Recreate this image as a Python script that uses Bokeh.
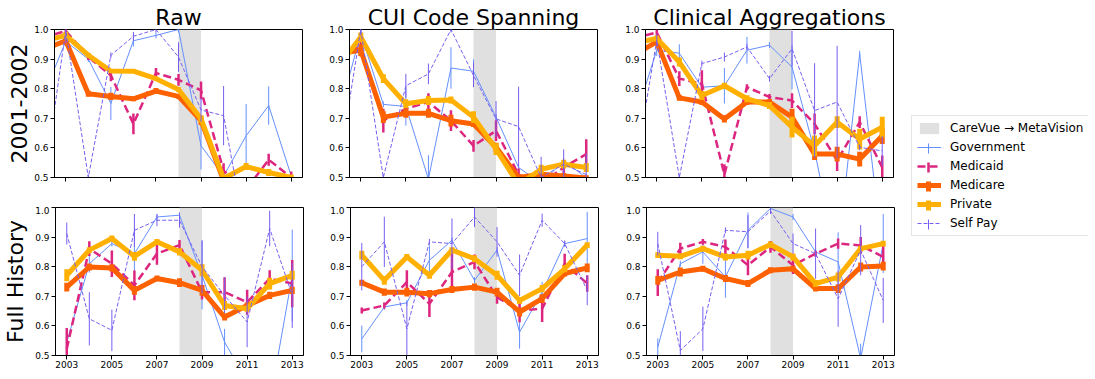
import numpy as np
from bokeh.plotting import figure
from bokeh.models import (Range1d, FixedTicker, PrintfTickFormatter, BoxAnnotation,
                          Title, Legend, LegendItem, ColumnDataSource)
from bokeh.layouts import row, column
from bokeh.embed import file_html
from bokeh.resources import INLINE

# ---------------- data ----------------
years_top = [2002, 2003, 2004, 2005, 2006, 2007, 2008, 2009, 2010, 2011, 2012, 2013]
years_bottom = [2003, 2004, 2005, 2006, 2007, 2008, 2009, 2010, 2011, 2012, 2013]
x_ticks = [2003, 2005, 2007, 2009, 2011, 2013]
y_ticks = [0.5, 0.6, 0.7, 0.8, 0.9, 1.0]
series_names = ["Government", "Medicaid", "Medicare", "Private", "Self Pay"]
column_titles = ["Raw", "CUI Code Spanning", "Clinical Aggregations"]
row_titles = ["2001-2002", "Full History"]
transition_label = "CareVue \u2192 MetaVision"
transition_years = [2008, 2009]

# Row 1: 2001-2002 (years_top)
raw_top_government = [0.776, 0.96, 0.90, 0.75, 0.962, 0.98, 1.0, 0.607, 0.505, 0.641, 0.743, 0.505]
raw_top_government_err = [0, 0.01, 0.01, 0.056, 0.02, 0.01, 0.01, 0.08, 0.01, 0.107, 0.065, 0.01]
raw_top_medicaid = [0.972, 0.995, 0.907, 0.845, 0.681, 0.853, 0.83, 0.794, 0.523, 0.46, 0.56, 0.50]
raw_top_medicaid_err = [0, 0.01, 0.01, 0.02, 0.035, 0.017, 0.02, 0.03, 0.025, 0.02, 0.02, 0.02]
raw_top_medicare = [0.932, 0.962, 0.783, 0.774, 0.766, 0.792, 0.774, 0.692, 0.49, 0.45, 0.45, 0.47]
raw_top_medicare_err = [0, 0.012, 0.01, 0.012, 0.008, 0.01, 0.008, 0.015, 0.01, 0.01, 0.01, 0.01]
raw_top_private = [0.96, 0.98, 0.913, 0.86, 0.859, 0.834, 0.797, 0.698, 0.497, 0.537, 0.517, 0.50]
raw_top_private_err = [0, 0.012, 0.008, 0.006, 0.006, 0.006, 0.008, 0.012, 0.01, 0.012, 0.012, 0.01]
raw_top_selfpay = [0.464, 0.998, 0.50, 0.913, 0.977, 1.0, 0.907, 0.728, 0.709, 0.30, 0.35, 0.40]
raw_top_selfpay_err = [0, 0.045, 0.01, 0.01, 0.015, 0.01, 0.05, 0.04, 0.1, 0.1, 0.05, 0.02]

cui_top_government = [0.704, 0.986, 0.747, 0.74, 0.495, 0.87, 0.859, 0.704, 0.534, 0.48, 0.556, 0.50]
cui_top_government_err = [0, 0.02, 0.01, 0.065, 0.08, 0.07, 0.04, 0.01, 0.01, 0.01, 0.01, 0.01]
cui_top_medicaid = [0.924, 0.94, 0.692, 0.732, 0.755, 0.692, 0.607, 0.658, 0.51, 0.48, 0.534, 0.579]
cui_top_medicaid_err = [0, 0.02, 0.04, 0.01, 0.03, 0.035, 0.02, 0.035, 0.02, 0.02, 0.02, 0.05]
cui_top_medicare = [0.918, 0.93, 0.704, 0.717, 0.717, 0.692, 0.681, 0.602, 0.50, 0.511, 0.505, 0.498]
cui_top_medicare_err = [0, 0.02, 0.02, 0.015, 0.015, 0.02, 0.01, 0.015, 0.01, 0.01, 0.01, 0.01]
cui_top_private = [0.873, 0.975, 0.834, 0.749, 0.76, 0.762, 0.704, 0.596, 0.476, 0.528, 0.545, 0.534]
cui_top_private_err = [0, 0.015, 0.015, 0.015, 0.015, 0.012, 0.02, 0.02, 0.01, 0.015, 0.015, 0.015]
cui_top_selfpay = [0.52, 1.0, 0.50, 0.81, 0.85, 1.0, 0.845, 0.698, 0.672, 0.50, 0.545, 0.51]
cui_top_selfpay_err = [0, 0.02, 0.01, 0.04, 0.035, 0.01, 0.04, 0.06, 0.135, 0.07, 0.05, 0.07]

clin_top_government = [0.69, 0.93, 0.92, 0.805, 0.81, 0.93, 0.947, 0.873, 0.59, 0.22, 0.918, 0.25]
clin_top_government_err = [0, 0.02, 0.03, 0.01, 0.06, 0.045, 0.01, 0.075, 0.01, 0.01, 0.01, 0.01]
clin_top_medicaid = [0.97, 0.99, 0.834, 0.817, 0.51, 0.805, 0.772, 0.76, 0.681, 0.557, 0.687, 0.534]
clin_top_medicaid_err = [0, 0.01, 0.025, 0.045, 0.035, 0.01, 0.01, 0.025, 0.035, 0.035, 0.02, 0.04]
clin_top_medicare = [0.914, 0.958, 0.769, 0.755, 0.698, 0.755, 0.755, 0.704, 0.579, 0.579, 0.562, 0.641]
clin_top_medicare_err = [0, 0.01, 0.01, 0.01, 0.012, 0.01, 0.01, 0.028, 0.02, 0.025, 0.025, 0.028]
clin_top_private = [0.954, 0.97, 0.89, 0.777, 0.81, 0.766, 0.743, 0.67, 0.607, 0.687, 0.63, 0.67]
clin_top_private_err = [0, 0.01, 0.015, 0.015, 0.01, 0.012, 0.012, 0.035, 0.035, 0.02, 0.035, 0.035]
clin_top_selfpay = [0.512, 0.964, 0.50, 0.885, 0.907, 0.941, 0.834, 0.935, 0.726, 0.755, 0.602, 0.59]
clin_top_selfpay_err = [0, 0.02, 0.01, 0.01, 0.015, 0.01, 0.01, 0.06, 0.16, 0.19, 0.01, 0.05]

# Row 2: Full History (years_bottom)
raw_bot_government = [0.545, 0.81, 0.878, 0.844, 0.968, 0.974, 0.771, 0.545, 0.415, 0.34, 0.77]
raw_bot_government_err = [0.01, 0.03, 0.01, 0.085, 0.01, 0.01, 0.115, 0.045, 0.01, 0.01, 0.155]
raw_bot_medicaid = [0.523, 0.861, 0.81, 0.737, 0.844, 0.873, 0.714, 0.714, 0.68, 0.76, 0.743]
raw_bot_medicaid_err = [0.07, 0.025, 0.045, 0.05, 0.037, 0.017, 0.025, 0.05, 0.042, 0.028, 0.08]
raw_bot_medicare = [0.731, 0.799, 0.796, 0.72, 0.76, 0.746, 0.72, 0.63, 0.669, 0.703, 0.72]
raw_bot_medicare_err = [0.015, 0.012, 0.012, 0.015, 0.01, 0.015, 0.018, 0.012, 0.01, 0.012, 0.012]
raw_bot_private = [0.771, 0.856, 0.895, 0.835, 0.884, 0.85, 0.788, 0.669, 0.658, 0.743, 0.771]
raw_bot_private_err = [0.02, 0.01, 0.01, 0.015, 0.01, 0.012, 0.02, 0.015, 0.01, 0.02, 0.015]
raw_bot_selfpay = [0.912, 0.624, 0.585, 0.923, 0.957, 0.957, 0.80, 0.703, 0.613, 0.929, 0.703]
raw_bot_selfpay_err = [0.037, 0.09, 0.07, 0.055, 0.02, 0.025, 0.09, 0.06, 0.085, 0.06, 0.11]

cui_bot_government = [0.556, 0.664, 0.678, 0.822, 0.889, 0.754, 0.856, 0.579, 0.714, 0.878, 0.895]
cui_bot_government_err = [0.045, 0.01, 0.01, 0.05, 0.01, 0.01, 0.01, 0.056, 0.034, 0.01, 0.09]
cui_bot_medicaid = [0.652, 0.669, 0.748, 0.675, 0.782, 0.816, 0.697, 0.652, 0.658, 0.81, 0.743]
cui_bot_medicaid_err = [0.01, 0.01, 0.04, 0.045, 0.07, 0.025, 0.022, 0.04, 0.045, 0.034, 0.028]
cui_bot_medicare = [0.746, 0.714, 0.714, 0.709, 0.723, 0.731, 0.714, 0.647, 0.692, 0.777, 0.796]
cui_bot_medicare_err = [0.01, 0.012, 0.015, 0.012, 0.012, 0.012, 0.015, 0.015, 0.015, 0.01, 0.015]
cui_bot_private = [0.839, 0.754, 0.833, 0.771, 0.856, 0.827, 0.771, 0.686, 0.726, 0.793, 0.873]
cui_bot_private_err = [0.015, 0.015, 0.01, 0.012, 0.01, 0.012, 0.015, 0.012, 0.012, 0.012, 0.01]
cui_bot_selfpay = [0.80, 0.884, 0.59, 0.884, 0.878, 0.968, 0.884, 0.771, 0.957, 0.878, 0.72]
cui_bot_selfpay_err = [0.08, 0.085, 0.09, 0.01, 0.085, 0.034, 0.05, 0.07, 0.022, 0.01, 0.05]

clin_bot_government = [0.528, 0.81, 0.85, 0.765, 0.923, 0.997, 0.968, 0.85, 0.816, 0.49, 0.878]
clin_bot_government_err = [0.03, 0.01, 0.04, 0.07, 0.06, 0.01, 0.01, 0.01, 0.1, 0.05, 0.1]
clin_bot_medicaid = [0.746, 0.861, 0.884, 0.867, 0.805, 0.867, 0.805, 0.844, 0.878, 0.872, 0.833]
clin_bot_medicaid_err = [0.045, 0.02, 0.01, 0.025, 0.034, 0.02, 0.03, 0.01, 0.017, 0.028, 0.04]
clin_bot_medicare = [0.754, 0.782, 0.793, 0.76, 0.743, 0.788, 0.793, 0.726, 0.726, 0.799, 0.802]
clin_bot_medicare_err = [0.015, 0.015, 0.01, 0.012, 0.012, 0.01, 0.01, 0.01, 0.015, 0.015, 0.015]
clin_bot_private = [0.839, 0.835, 0.861, 0.833, 0.839, 0.875, 0.833, 0.743, 0.765, 0.861, 0.878]
clin_bot_private_err = [0.01, 0.01, 0.01, 0.012, 0.015, 0.01, 0.012, 0.012, 0.015, 0.01, 0.01]
clin_bot_selfpay = [0.878, 0.517, 0.59, 0.923, 0.918, 0.988, 0.878, 0.844, 0.692, 0.856, 0.686]
clin_bot_selfpay_err = [0.04, 0.065, 0.075, 0.01, 0.056, 0.01, 0.034, 0.085, 0.095, 0.085, 0.076]

# ---------------- styles ----------------
FONT = "DejaVu Sans"
STYLE = {
    "Government": dict(color="#648FFF", width=1.0, dash="solid"),
    "Medicaid": dict(color="#DC267F", width=2.5, dash="8 4"),
    "Medicare": dict(color="#FE6100", width=5.0, dash="solid"),
    "Private": dict(color="#FFB000", width=5.0, dash="solid"),
    "Self Pay": dict(color="#785EF0", width=1.0, dash="4 2"),
}
SHADE = "#e0e0e0"

panel_data = [
    [  # top row
        {"Government": (raw_top_government, raw_top_government_err),
         "Medicaid": (raw_top_medicaid, raw_top_medicaid_err),
         "Medicare": (raw_top_medicare, raw_top_medicare_err),
         "Private": (raw_top_private, raw_top_private_err),
         "Self Pay": (raw_top_selfpay, raw_top_selfpay_err)},
        {"Government": (cui_top_government, cui_top_government_err),
         "Medicaid": (cui_top_medicaid, cui_top_medicaid_err),
         "Medicare": (cui_top_medicare, cui_top_medicare_err),
         "Private": (cui_top_private, cui_top_private_err),
         "Self Pay": (cui_top_selfpay, cui_top_selfpay_err)},
        {"Government": (clin_top_government, clin_top_government_err),
         "Medicaid": (clin_top_medicaid, clin_top_medicaid_err),
         "Medicare": (clin_top_medicare, clin_top_medicare_err),
         "Private": (clin_top_private, clin_top_private_err),
         "Self Pay": (clin_top_selfpay, clin_top_selfpay_err)},
    ],
    [  # bottom row
        {"Government": (raw_bot_government, raw_bot_government_err),
         "Medicaid": (raw_bot_medicaid, raw_bot_medicaid_err),
         "Medicare": (raw_bot_medicare, raw_bot_medicare_err),
         "Private": (raw_bot_private, raw_bot_private_err),
         "Self Pay": (raw_bot_selfpay, raw_bot_selfpay_err)},
        {"Government": (cui_bot_government, cui_bot_government_err),
         "Medicaid": (cui_bot_medicaid, cui_bot_medicaid_err),
         "Medicare": (cui_bot_medicare, cui_bot_medicare_err),
         "Private": (cui_bot_private, cui_bot_private_err),
         "Self Pay": (cui_bot_selfpay, cui_bot_selfpay_err)},
        {"Government": (clin_bot_government, clin_bot_government_err),
         "Medicaid": (clin_bot_medicaid, clin_bot_medicaid_err),
         "Medicare": (clin_bot_medicare, clin_bot_medicare_err),
         "Private": (clin_bot_private, clin_bot_private_err),
         "Self Pay": (clin_bot_selfpay, clin_bot_selfpay_err)},
    ],
]

FW, FH = 248, 148
LEFT_BORDERS = [54, 46, 47]


def make_panel(ri, ci):
    years = years_top if ri == 0 else years_bottom
    p = figure(frame_width=FW, frame_height=FH, title=None,
               min_border_left=LEFT_BORDERS[ci], min_border_right=1,
               min_border_top=29 if ri == 0 else 1,
               min_border_bottom=29 if ri == 0 else 16,
               x_range=Range1d(2002.5, 2013.5), y_range=Range1d(0.5, 1.0),
               output_backend="svg", toolbar_location=None, tools="")
    if ri == 0:
        p.title = Title(text=column_titles[ci], align="center", text_font=FONT,
                        text_font_size="22px", text_font_style="normal",
                        text_color="black", standoff=0, offset=0)
    p.xgrid.visible = False
    p.ygrid.visible = False
    p.outline_line_color = "black"
    p.outline_line_width = 1
    p.background_fill_color = "white"
    p.border_fill_color = "white"

    p.xaxis.ticker = FixedTicker(ticks=x_ticks)
    p.xaxis.formatter = PrintfTickFormatter(format="%d" if ri == 1 else "")
    p.yaxis.ticker = FixedTicker(ticks=y_ticks)
    p.yaxis.formatter = PrintfTickFormatter(format="%.1f")
    for ax in p.axis:
        ax.major_tick_out = 4
        ax.major_tick_in = 0
        ax.minor_tick_line_color = None
        ax.axis_line_color = "black"
        ax.major_tick_line_color = "black"
        ax.major_label_text_font = FONT
        ax.major_label_text_font_size = "9px"
        ax.major_label_text_color = "black"
    p.xaxis.major_label_standoff = 1
    p.yaxis.major_label_standoff = 2

    if ci == 0:
        p.yaxis.axis_label = row_titles[ri]
        p.yaxis.axis_label_text_font = FONT
        p.yaxis.axis_label_text_font_size = "22px"
        p.yaxis.axis_label_text_font_style = "normal"
        p.yaxis.axis_label_text_color = "black"
        p.yaxis.axis_label_standoff = 4

    p.add_layout(BoxAnnotation(left=transition_years[0], right=transition_years[1],
                               fill_color=SHADE, fill_alpha=1.0, line_color=None,
                               level="underlay"))

    d = panel_data[ri][ci]
    for name in series_names:
        vals, errs = d[name]
        st = STYLE[name]
        src = ColumnDataSource(dict(
            x=years, y=vals,
            lo=[v - e for v, e in zip(vals, errs)],
            hi=[v + e for v, e in zip(vals, errs)]))
        p.segment(x0="x", y0="lo", x1="x", y1="hi", source=src,
                  line_color=st["color"], line_width=st["width"])
        p.line(x="x", y="y", source=src, line_color=st["color"],
               line_width=st["width"], line_dash=st["dash"], line_join="round")
    return p


rows = []
for ri in range(2):
    rows.append(row(*[make_panel(ri, ci) for ci in range(3)], spacing=0))
grid = column(*rows, spacing=0)

# ---------------- legend panel ----------------
LW, LH = 193, 371
lg = figure(frame_width=LW, frame_height=LH, min_border=0, title=None,
            x_range=Range1d(0, LW), y_range=Range1d(0, LH),
            x_axis_location=None, y_axis_location=None,
            output_backend="svg", toolbar_location=None, tools="")
lg.grid.visible = False
lg.outline_line_color = None
lg.background_fill_color = "white"

LEG_X, LEG_TOP = 16, 117
PAD, GW, GH, SP = 5, 24, 14, 5
n_items = 6
leg_h = 2 * PAD + n_items * GH + (n_items - 1) * SP

items = []
r_patch = lg.quad(left=[-50], right=[-40], bottom=[-50], top=[-40],
                  fill_color=SHADE, line_color=None)
items.append(LegendItem(label=transition_label, renderers=[r_patch]))
for k, name in enumerate(series_names):
    st = STYLE[name]
    r = lg.line(x=[-50, -40], y=[-50, -50], line_color=st["color"],
                line_width=st["width"], line_dash=st["dash"])
    items.append(LegendItem(label=name, renderers=[r]))
    # vertical error-bar mark of the legend handle
    cy = LH - (LEG_TOP + PAD + GH / 2 + (k + 1) * (GH + SP))
    cx = LEG_X + PAD + GW / 2
    lg.segment(x0=[cx], y0=[cy - 5], x1=[cx], y1=[cy + 5],
               line_color=st["color"], line_width=st["width"])

legend = Legend(items=items, location=(LEG_X, LH - LEG_TOP - leg_h),
                orientation="vertical", padding=PAD, spacing=SP,
                glyph_width=GW, glyph_height=GH, label_height=GH,
                label_standoff=9, margin=0,
                label_text_font=FONT, label_text_font_size="12px",
                label_text_color="black",
                border_line_color="#cccccc", border_line_width=1,
                background_fill_alpha=0.0)
lg.add_layout(legend)

layout = row(grid, lg, spacing=0)

open("out.html", "w").write(file_html(layout, INLINE))
